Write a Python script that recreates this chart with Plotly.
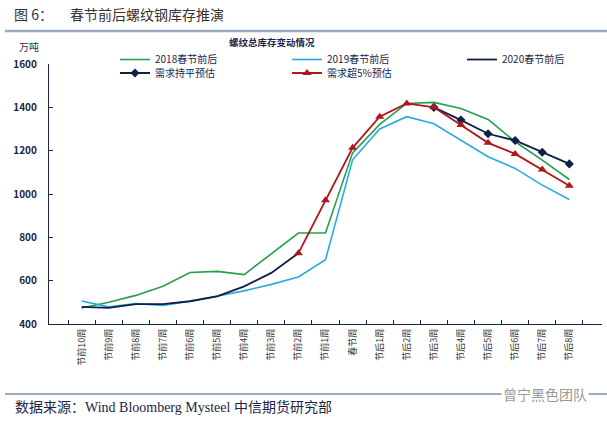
import plotly.graph_objects as go

categories = ["节前10周", "节前9周", "节前8周", "节前7周", "节前6周", "节前5周", "节前4周",
              "节前3周", "节前2周", "节前1周", "春节周", "节后1周", "节后2周", "节后3周",
              "节后4周", "节后5周", "节后6周", "节后7周", "节后8周"]

s2018 = [474, 500, 532, 574, 638, 643, 628, 722, 820, 820, 1190, 1321, 1418, 1423, 1395, 1344, 1241, 1156, 1067]
s2019 = [506, 479, 494, 486, 505, 530, 553, 583, 617, 697, 1158, 1300, 1357, 1324, 1249, 1172, 1118, 1041, 975]
s2020 = [479, 474, 492, 492, 505, 528, 574, 636, 727, None, None, None, None, None, None, None, None, None, None]
flat_est = [None] * 13 + [1400, 1341, 1278, 1247, 1193, 1139]
up5_est = [None] * 8 + [727, 971, 1213, 1357, 1418, 1400, 1318, 1236, 1185, 1113, 1038]

y_ticks = [400, 600, 800, 1000, 1200, 1400, 1600]

GREEN = "#22a04e"
BLUE = "#29aae1"
NAVY = "#0f1f45"
RED = "#b0161c"
AXIS = "#1a2647"
FONT = "Noto Sans CJK SC, Liberation Sans, sans-serif"

W, H = 607, 423
L, R, T, B = 49, 5, 64, 99
PW, PH = W - L - R, H - T - B


def px(x):
    return (x - L) / PW


def py(y):
    return (H - B - y) / PH


def cx(x):
    return x / W


def cy(y):
    return 1 - y / H


fig = go.Figure()
fig.add_trace(go.Scatter(x=categories, y=s2018, name="2018春节前后", mode="lines",
                         line=dict(color=GREEN, width=1.6), legend="legend"))
fig.add_trace(go.Scatter(x=categories, y=s2019, name="2019春节前后", mode="lines",
                         line=dict(color=BLUE, width=1.6), legend="legend2"))
fig.add_trace(go.Scatter(x=categories, y=s2020, name="2020春节前后", mode="lines",
                         line=dict(color=NAVY, width=1.8), legend="legend3"))
fig.add_trace(go.Scatter(x=categories, y=flat_est, name="需求持平预估", mode="lines+markers",
                         line=dict(color=NAVY, width=1.8),
                         marker=dict(symbol="diamond", size=7, color=NAVY), legend="legend4"))
fig.add_trace(go.Scatter(x=categories, y=up5_est, name="需求超5%预估", mode="lines+markers",
                         line=dict(color=RED, width=1.8),
                         marker=dict(symbol="triangle-up", size=8, color=RED), legend="legend5"))

leg_common = dict(xref="container", yref="container", xanchor="left", yanchor="middle",
                  orientation="v", bgcolor="rgba(0,0,0,0)", borderwidth=0,
                  font=dict(size=10, color="#1a2647", family=FONT), itemwidth=30)
col_x = [115, 287, 462]
row_y = [59.5, 73]

fig.update_layout(
    width=W, height=H,
    margin=dict(l=L, r=R, t=T, b=B, autoexpand=False),
    paper_bgcolor="white", plot_bgcolor="white",
    font=dict(family=FONT, size=10, color="#1a2647"),
    showlegend=True,
    legend=dict(x=cx(col_x[0]), y=cy(row_y[0]), **leg_common),
    legend2=dict(x=cx(col_x[1]), y=cy(row_y[0]), **leg_common),
    legend3=dict(x=cx(col_x[2]), y=cy(row_y[0]), **leg_common),
    legend4=dict(x=cx(col_x[0]), y=cy(row_y[1]), **leg_common),
    legend5=dict(x=cx(col_x[1]), y=cy(row_y[1]), **leg_common),
    xaxis=dict(type="category", tickangle=-90, tickson="boundaries",
               showline=True, linecolor=AXIS, linewidth=1.2,
               ticks="inside", ticklen=4, tickcolor=AXIS,
               tickfont=dict(size=9, color="#333333"),
               showgrid=False, zeroline=False, automargin=False),
    yaxis=dict(range=[400, 1600], tickvals=y_ticks,
               showline=True, linecolor=AXIS, linewidth=1.2,
               ticks="inside", ticklen=4, tickcolor=AXIS, ticklabelstandoff=9,
               tickfont=dict(size=10, color=AXIS, weight=600),
               showgrid=False, zeroline=False, automargin=False),
)

# header
fig.add_annotation(xref="paper", yref="paper", x=px(12), y=py(14), xanchor="left", yanchor="middle",
                   text="图 6：", showarrow=False, font=dict(size=14, color="#333333"))
fig.add_annotation(xref="paper", yref="paper", x=px(68), y=py(14), xanchor="left", yanchor="middle",
                   text="春节前后螺纹钢库存推演", showarrow=False,
                   font=dict(size=14, color="#333333"))
fig.add_shape(type="line", xref="paper", yref="paper", x0=px(5), x1=px(608), y0=py(31), y1=py(31),
              line=dict(color="#9aabc2", width=2.5))
fig.add_annotation(xref="paper", yref="paper", x=px(272), y=py(42), xanchor="center", yanchor="middle",
                   text="<b>螺纹总库存变动情况</b>", showarrow=False,
                   font=dict(size=9.5, color="#1a2647"))
fig.add_annotation(xref="paper", yref="paper", x=px(29), y=py(46), xanchor="center", yanchor="middle",
                   text="万吨", showarrow=False, font=dict(size=10, color="#333333"))

# footer
fig.add_shape(type="line", xref="paper", yref="paper", x0=px(5), x1=px(608), y0=py(394), y1=py(394),
              line=dict(color="#9aabc2", width=2))
fig.add_annotation(xref="paper", yref="paper", x=px(13), y=py(406), xanchor="left", yanchor="middle",
                   text="数据来源：<span style='font-family:Liberation Serif'>Wind Bloomberg Mysteel </span>中信期货研究部",
                   showarrow=False, font=dict(size=14, color="#1a2647"))
fig.add_annotation(xref="paper", yref="paper", x=px(589), y=py(394), xanchor="right", yanchor="middle",
                   text="曾宁黑色团队", showarrow=False, bgcolor="white",
                   font=dict(size=14, color="#999999"))

fig.write_html("out.html", config={"displayModeBar": False},
               post_script="document.body.style.margin='0';document.body.style.overflow='hidden';")
